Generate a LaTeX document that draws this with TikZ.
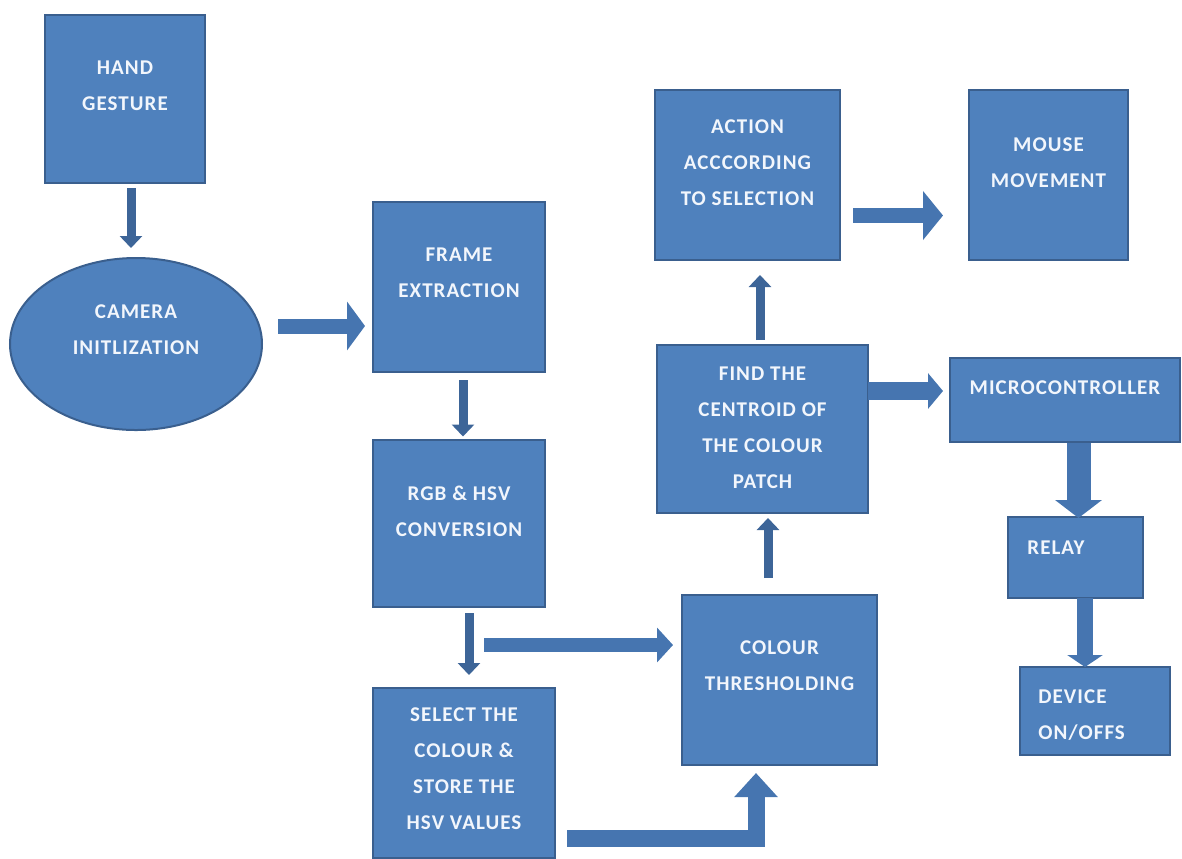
\documentclass[tikz,border=0pt]{standalone}
\usepackage{fontspec}
\setmainfont{Carlito}[LetterSpace=5]
\usetikzlibrary{arrows.meta,shapes.geometric}
\definecolor{boxfill}{HTML}{4F81BD}
\definecolor{boxline}{HTML}{3A5F8E}
\definecolor{arrdark}{HTML}{3D6598}
\definecolor{arrblue}{HTML}{4675B0}
\definecolor{txtwhite}{HTML}{F2F6FC}
\tikzset{
  blk/.style={rectangle, draw=boxline, fill=boxfill, line width=1pt, outer sep=0pt},
  oval/.style={ellipse, draw=boxline, fill=boxfill, line width=1pt, outer sep=0pt},
  txt/.style={font=\fontsize{10.5}{18}\selectfont\bfseries, text=txtwhite, align=center, inner sep=0pt},
  thinarr/.style={draw=arrdark, line width=4.5pt, -{Triangle[width=11pt,length=6pt]}},
  bigarr/.style n args={3}{draw=arrblue, line width=#1, -{Triangle[width=#2,length=#3]}}
}

\begin{document}
\begin{tikzpicture}[x=0.5pt, y=-0.5pt]
\useasboundingbox (0,0) rectangle (1182,858);

% left column
\node[blk, minimum width=80pt, minimum height=84pt, label={[txt,yshift=6.5pt]center:HAND\\GESTURE}] (hand) at (125,99) {};
\node[oval, minimum width=126pt, minimum height=86pt, label={[txt,yshift=7pt]center:CAMERA\\INITLIZATION}] (cam) at (136,344) {};

% middle column
\node[blk, minimum width=86pt, minimum height=85pt, label={[txt,yshift=7pt]center:FRAME\\EXTRACTION}] (frame) at (459,287) {};
\node[blk, minimum width=86pt, minimum height=83.5pt, label={[txt,yshift=6pt]center:RGB \& HSV\\CONVERSION}] (rgb) at (459,523) {};
\node[blk, minimum width=91pt, minimum height=85pt, label={[txt,yshift=2pt]center:SELECT THE\\COLOUR \&\\STORE THE\\HSV VALUES}] (sel) at (464,773) {};

% processing column
\node[blk, minimum width=97.5pt, minimum height=85pt, label={[txt,yshift=7pt]center:COLOUR\\THRESHOLDING}] (thr) at (779.5,680) {};
\node[blk, minimum width=105.5pt, minimum height=84pt, label={[txt,yshift=0.5pt]center:FIND THE\\CENTROID OF\\THE COLOUR\\PATCH}] (find) at (762.5,429) {};
\node[blk, minimum width=92.5pt, minimum height=85pt, label={[txt,yshift=6pt]center:ACTION\\ACCCORDING\\TO SELECTION}] (act) at (747.5,175) {};

% outputs
\node[blk, minimum width=79.5pt, minimum height=85pt, label={[txt,yshift=6pt]center:MOUSE\\MOVEMENT}] (mouse) at (1048.5,175) {};
\node[blk, minimum width=115pt, minimum height=42pt, label={[txt,yshift=6pt]center:MICROCONTROLLER}] (micro) at (1065,400) {};
\node[blk, minimum width=67.5pt, minimum height=40.5pt, label={[txt,anchor=west,xshift=9.5pt,yshift=5pt]west:RELAY}] (relay) at (1075.5,557.5) {};
\node[blk, minimum width=75pt, minimum height=44pt, label={[txt,align=left,anchor=west,xshift=9pt,yshift=-2pt]west:DEVICE\\ON/OFFS}] (dev) at (1095,711) {};

% connectors
\draw[thinarr] ([shift={(6,5)}]hand.south) -- ([shift={(-5,-10)}]cam.north);
\draw[bigarr={7.5pt}{24pt}{9pt}] ([shift={(16,-18)}]cam.east) -- ([shift={(-8,39)}]frame.west);
\draw[thinarr] ([shift={(4,8)}]frame.south) -- ([shift={(4,-3)}]rgb.north);
\draw[thinarr] ([shift={(10,6.5)}]rgb.south) -- ([shift={(5,-13)}]sel.north);
\draw[bigarr={7pt}{17pt}{8pt}] ([shift={(25,38.5)}]rgb.south) -- ([shift={(-9,-35)}]thr.west);
\draw[bigarr={8.5pt}{21pt}{12pt}] ([shift={(12,65.5)}]sel.east) -| ([shift={(-23.5,8)}]thr.south);
\draw[thinarr] ([shift={(-11.5,-17)}]thr.north) -- ([shift={(5.5,5)}]find.south);
\draw[thinarr] ([shift={(-2.5,-5)}]find.north) -- ([shift={(12.5,15)}]act.south);
\draw[bigarr={7.5pt}{24pt}{10pt}] ([shift={(13,40.5)}]act.east) -- ([shift={(-26,40.5)}]mouse.west);
\draw[bigarr={9pt}{17.5pt}{7.5pt}] ([shift={(0,-38)}]find.east) -- ([shift={(-7,-9)}]micro.west);
\draw[bigarr={12pt}{23pt}{9pt}] ([shift={(13.5,1)}]micro.south) -- ([shift={(3,1)}]relay.north);
\draw[bigarr={8pt}{17.5pt}{6pt}] ([shift={(9.5,0)}]relay.south) -- ([shift={(-10,0)}]dev.north);
\end{tikzpicture}
\end{document}
